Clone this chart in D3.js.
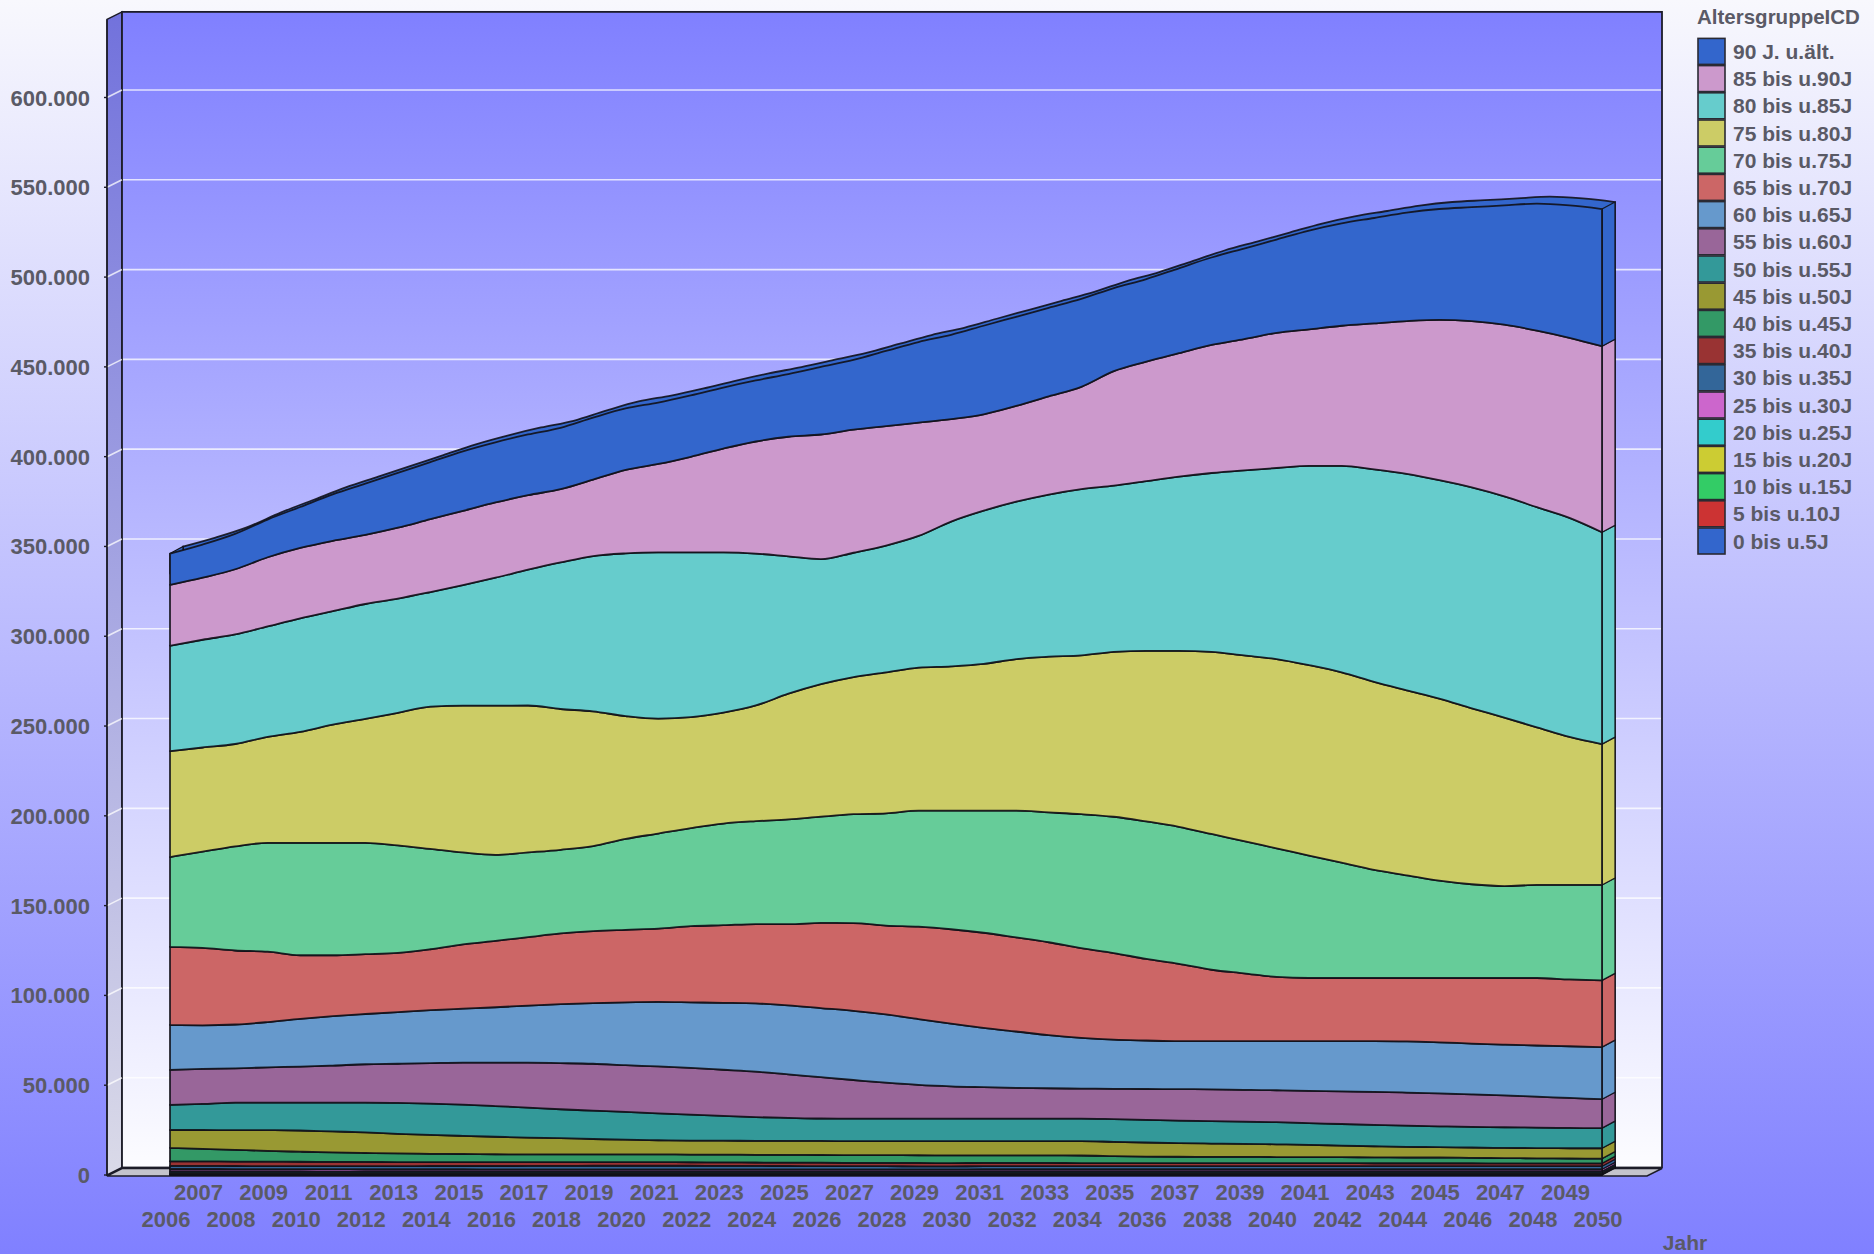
<!DOCTYPE html>
<html>
<head>
<meta charset="utf-8">
<script src="https://cdn.jsdelivr.net/npm/d3@7"></script>
<style>
  html, body { margin: 0; padding: 0; overflow: hidden; background: #fff; }
  svg { display: block; }
  text { font-family: "Liberation Sans", Arial, Helvetica, sans-serif; font-weight: bold; }
</style>
</head>
<body>
<svg id="chart" width="1874" height="1254"></svg>
<script>
// ---- data: population by age group (Altersgruppe), 2006-2050 ----
const years = [2006,2007,2008,2009,2010,2011,2012,2013,2014,2015,
               2016,2017,2018,2019,2020,2021,2022,2023,2024,2025,
               2026,2027,2028,2029,2030,2031,2032,2033,2034,2035,
               2036,2037,2038,2039,2040,2041,2042,2043,2044,2045,
               2046,2047,2048,2049,2050];

// age groups from youngest (bottom of stack) to oldest (top of stack)
const groups = ["0 bis u.5J","5 bis u.10J","10 bis u.15J","15 bis u.20J","20 bis u.25J",
                "25 bis u.30J","30 bis u.35J","35 bis u.40J","40 bis u.45J","45 bis u.50J",
                "50 bis u.55J","55 bis u.60J","60 bis u.65J","65 bis u.70J","70 bis u.75J",
                "75 bis u.80J","80 bis u.85J","85 bis u.90J","90 J. u.ält."];

const groupColors = ["#3366cc","#cc3333","#33cc66","#cccc33","#33cccc",
                     "#cc66cc","#336699","#993333","#339966","#999933",
                     "#339999","#996699","#6699cc","#cc6666","#66cc99",
                     "#cccc66","#66cccc","#cc99cc","#3366cc"];

const v0_5 = [150,150,150,150,150,150,150,150,150,150, 150,150,150,150,150,150,150,150,150,150,
              150,150,150,150,150,150,150,150,150,150, 150,150,150,150,150,150,150,150,150,150,
              150,150,150,150,150];
const v5_10 = [200,200,200,200,200,200,200,200,200,200, 200,200,200,200,200,200,200,200,200,200,
               200,200,200,200,200,200,200,200,200,200, 200,200,200,200,200,200,200,200,200,200,
               200,200,200,200,200];
const v10_15 = [300,300,300,300,300,300,300,300,300,300, 300,300,300,300,300,300,300,300,300,300,
                300,300,300,300,300,300,300,300,300,300, 300,300,300,300,300,300,300,300,300,300,
                300,300,300,300,300];
const v15_20 = [550,550,550,550,550,550,550,550,550,550, 550,550,550,550,550,550,550,550,550,550,
                550,550,550,550,550,550,550,550,550,550, 550,550,550,550,550,550,550,550,550,550,
                550,550,550,550,550];
const v20_25 = [900,900,900,880,880,860,860,850,850,850, 850,850,850,850,850,850,850,850,850,850,
                850,850,850,850,850,850,850,850,850,850, 850,850,850,850,850,850,850,850,850,850,
                850,850,850,850,850];
const v25_30 = [1250,1250,1200,1200,1200,1200,1150,1150,1150,1150, 1100,1100,1100,1100,1100,1100,1100,1100,1100,1100,
                1100,1100,1100,1100,1100,1150,1150,1150,1150,1150, 1150,1150,1150,1150,1150,1150,1150,1150,1150,1150,
                1150,1150,1150,1150,1150];
const v30_35 = [1700,1700,1700,1700,1700,1700,1750,1750,1800,1800, 1850,1900,1950,2000,2000,2000,2000,1950,1900,1850,
                1800,1750,1750,1700,1700,1700,1700,1700,1700,1700, 1700,1700,1700,1700,1700,1700,1700,1700,1700,1700,
                1700,1700,1700,1700,1700];
const v35_40 = [2600,2550,2500,2450,2400,2350,2300,2250,2200,2200, 2150,2100,2100,2050,2000,2000,1950,1950,1900,1900,
                1900,1850,1850,1850,1800,1800,1800,1800,1750,1750, 1750,1750,1700,1700,1700,1700,1700,1650,1650,1650,
                1650,1600,1600,1600,1600];
const v40_45 = [7500,7000,6500,6000,5600,5300,5000,4800,4600,4500, 4400,4300,4300,4300,4300,4300,4300,4300,4300,4300,
                4300,4300,4300,4300,4300,4200,4200,4200,4200,3900, 3600,3500,3500,3500,3400,3400,3300,3300,3200,3200,
                3000,2900,2800,2700,2600];
const v45_50 = [9900,10450,11000,11550,11800,11650,11500,10950,10500,10100, 9750,9400,9000,8550,8200,7900,7750,7750,7800,7800,
                7800,7850,7850,7850,7900,8000,8000,8000,8050,7950, 7850,7650,7400,7200,7100,6800,6500,6150,5950,5750,
                5750,5700,5700,5700,5800];
const v50_55 = [14000,14500,15300,15300,15500,16000,16500,17200,17500,17400, 17100,16700,16100,15800,15500,15000,14500,13800,13200,12800,
                12500,12500,12500,12500,12500,12500,12500,12500,12500,12600, 12600,12500,12500,12400,12300,12100,12000,11900,11800,11600,
                11500,11500,11400,11300,11200];
const v55_60 = [19500,19500,19100,19700,20100,20700,21400,21800,22500,23400, 24200,25000,25700,26100,26000,26100,26000,25700,25300,24200,
                23000,21500,20000,18800,18000,17500,17100,16900,16700,16900, 17200,17500,17700,17700,17800,18000,18200,18400,18400,18300,
                18100,17700,17200,16700,16100];
const v60_65 = [25000,24300,24400,25200,26600,27500,28000,28800,29500,30000, 30800,31800,32800,33800,35000,35900,36500,37300,38000,38500,
                38500,38500,38000,36700,35000,33000,31400,29600,28300,27400, 27000,26700,26800,27100,27300,27600,27900,28200,28500,28500,
                28300,28300,28500,28800,29000];
const v65_70 = [43500,43100,41200,39200,35400,33900,33300,32900,33900,35800, 37000,38100,39400,40100,40400,40800,42400,43200,44200,45200,
                47400,48900,49500,51400,52500,53000,52400,51700,49900,48200, 45400,43100,39800,37800,35800,35200,35200,35200,35300,35800,
                36500,37100,37600,37200,37200];
const v70_75 = [50000,53600,58000,60600,62600,62600,62000,59900,55900,51200, 47900,47200,46600,47300,50600,53000,54600,56600,57300,58300,
                59200,60600,62500,64600,66000,68000,70600,72300,74600,75900, 76600,76300,75600,73600,71600,68200,64200,60200,57200,54200,
                52200,51200,51800,52600,53100];
const v75_80 = [59000,58000,57000,59000,61800,65800,69000,73800,79200,81800, 83100,81800,78400,75000,68400,64000,61800,61800,64400,70000,
                73800,76400,78500,79700,80400,81700,84400,86700,88400,91800, 95000,98000,101400,103400,105400,106000,106000,104700,103000,101400,
                98000,93800,87800,82400,78400];
const v80_85 = [58700,60000,61000,61500,63200,63200,64000,63600,63800,67100, 71200,75600,81600,86500,90600,92600,91800,89200,84600,76500,
                69600,69200,70600,73300,80600,85300,87600,90300,92600,92600, 94500,97000,99600,103100,106400,111000,115000,118300,120500,121600,
                123000,123200,122600,122000,118000];
const v85_90 = [33900,34600,36300,38500,39200,39200,38500,39500,40600,41300, 41900,41500,40800,42600,46500,49200,53200,57800,62400,66600,
                69400,68500,66500,63100,57100,53700,53400,54700,57000,63700, 66500,68700,71300,73100,75200,76000,78000,81300,85100,89300,
                92600,95600,98300,100300,103600];
const v90plus = [17400,18400,19700,21000,22800,25800,28500,30500,31800,33200, 33500,33800,34200,34500,34200,34200,34200,34000,34000,34900,
                 37600,38900,41900,44900,46900,49300,49600,49300,49000,46300, 46000,47300,48700,50400,52000,55000,57000,58700,60400,61700,
                 63400,66400,70700,73700,76400];

const seriesValues = [v0_5, v5_10, v10_15, v15_20, v20_25, v25_30, v30_35, v35_40, v40_45, v45_50,
                      v50_55, v55_60, v60_65, v65_70, v70_75, v75_80, v80_85, v85_90, v90plus];

const yTicks = [0,50000,100000,150000,200000,250000,300000,350000,400000,450000,500000,550000,600000];

// ---- table for d3.stack ----
const rows = years.map((yr, i) => {
  const r = { year: yr };
  groups.forEach((g, k) => { r[g] = seriesValues[k][i]; });
  return r;
});
const layers = d3.stack().keys(groups)(rows);

// ---- geometry ----
const W = 1874, H = 1254;
const svg = d3.select("#chart");
const defs = svg.append("defs");

const y = d3.scaleLinear().domain([0, 600000]).range([1175, 97.5]);
const x = d3.scaleLinear().domain([2006, 2050]).range([170, 1602]);
const axisTop = 643500;          // value reached by the top of the walls
const DX = 15, DY = 7.5;         // depth of the chart box
const SX = 13, SY = 7;           // depth of the area bodies
const axisX = 107, wallL = axisX + DX, wallR = 1662;

const fmt = d3.formatLocale({ decimal: ",", thousands: ".", grouping: [3], currency: ["", "€"] }).format(",d");
const textColor = "#5a5a66";

function vGrad(id, stops) {
  const g = defs.append("linearGradient").attr("id", id)
    .attr("x1", 0).attr("y1", 0).attr("x2", 0).attr("y2", 1);
  stops.forEach(([o, c]) => g.append("stop").attr("offset", o).attr("stop-color", c));
}
vGrad("pageBg", [[0, "#f8f8fd"], [1, "#8080ff"]]);
vGrad("wallBg", [[0, "#8080ff"], [1, "#fcfcff"]]);
vGrad("sideBg", [[0, "#7272dc"], [1, "#dadae8"]]);

// page background
svg.append("rect").attr("width", W).attr("height", H).attr("fill", "url(#pageBg)");

// ---- chart box: side wall, back wall, floor ----
const box = svg.append("g");
const wallTop = y(axisTop);
box.append("polygon")
  .attr("points", [[axisX, wallTop], [wallL, wallTop - DY], [wallL, y(0) - DY], [axisX, y(0)]].join(" "))
  .attr("fill", "url(#sideBg)").attr("stroke", "#1c1c28").attr("stroke-width", 1.5);
box.append("rect")
  .attr("x", wallL).attr("y", wallTop - DY)
  .attr("width", wallR - wallL).attr("height", y(0) - wallTop)
  .attr("fill", "url(#wallBg)").attr("stroke", "#1c1c28").attr("stroke-width", 1.8);

// grid lines on the back wall and the side wall
const grid = box.append("g").attr("stroke", "#ffffff").attr("stroke-opacity", 0.75).attr("stroke-width", 1.6);
yTicks.filter(t => t > 0).forEach(t => {
  grid.append("line").attr("x1", wallL + 1).attr("x2", wallR - 1)
    .attr("y1", y(t) - DY).attr("y2", y(t) - DY);
  grid.append("line").attr("x1", axisX).attr("x2", wallL)
    .attr("y1", y(t)).attr("y2", y(t) - DY);
});

// floor
box.append("polygon")
  .attr("points", [[axisX, y(0) + 1], [wallL, y(0) - DY + 1], [wallR, y(0) - DY + 1], [wallR - DX, y(0) + 1]].join(" "))
  .attr("fill", "#c4c4cc").attr("stroke", "#1c1c28").attr("stroke-width", 1.4);

// value axis line and ticks
box.append("line").attr("x1", axisX).attr("x2", axisX).attr("y1", wallTop).attr("y2", y(0) + 1)
  .attr("stroke", "#1c1c28").attr("stroke-width", 1.5);
box.selectAll(".tick").data(yTicks).join("line")
  .attr("x1", axisX - 3).attr("x2", axisX).attr("y1", d => y(d)).attr("y2", d => y(d))
  .attr("stroke", "#1c1c28").attr("stroke-width", 1.4);
box.selectAll(".ylab").data(yTicks).join("text")
  .attr("x", 90).attr("y", d => y(d) + 8)
  .attr("text-anchor", "end").attr("font-size", 22).attr("fill", textColor)
  .text(d => fmt(d));

// ---- stacked 3D areas ----
const plot = svg.append("g");
const area = d3.area()
  .x(d => x(d.data.year))
  .y0(d => y(d[0]))
  .y1(d => y(d[1]))
  .curve(d3.curveMonotoneX);

const topLayer = layers[layers.length - 1];
const topColor = groupColors[groupColors.length - 1];
const edge = { stroke: "#111118", width: 1.8, opacity: 0.9 };

// back copy of the whole stack gives the visible top face
const totalArea = d3.area()
  .x(d => x(d.data.year))
  .y0(() => y(0))
  .y1(d => y(d[1]))
  .curve(d3.curveMonotoneX);
plot.append("path").datum(topLayer)
  .attr("transform", `translate(${SX},${-SY})`)
  .attr("d", totalArea)
  .attr("fill", topColor).attr("stroke", edge.stroke)
  .attr("stroke-width", edge.width).attr("stroke-opacity", edge.opacity);
// left end of the top face
const first = topLayer[0];
plot.append("polygon")
  .attr("points", [[x(first.data.year), y(first[1])], [x(first.data.year) + SX, y(first[1]) - SY],
                   [x(first.data.year) + SX, y(first[1]) + 20], [x(first.data.year), y(first[1]) + 20]].join(" "))
  .attr("fill", topColor).attr("stroke", edge.stroke).attr("stroke-width", 1.2);

// right side faces
const last = years.length - 1;
layers.forEach((L, k) => {
  const xe = x(L[last].data.year);
  const yt = y(L[last][1]), yb = y(L[last][0]);
  plot.append("polygon")
    .attr("points", [[xe, yt], [xe + SX, yt - SY], [xe + SX, yb - SY], [xe, yb]].join(" "))
    .attr("fill", groupColors[k]).attr("stroke", edge.stroke)
    .attr("stroke-width", 1.3).attr("stroke-opacity", edge.opacity);
});

// front faces
plot.selectAll(".layer").data(layers).join("path")
  .attr("d", area)
  .attr("fill", (d, k) => groupColors[k])
  .attr("stroke", edge.stroke).attr("stroke-width", edge.width)
  .attr("stroke-opacity", edge.opacity).attr("stroke-linejoin", "round");

// ---- category axis labels (two staggered rows) ----
const xl = svg.append("g").attr("font-size", 22).attr("fill", textColor).attr("text-anchor", "middle");
xl.selectAll("text").data(years).join("text")
  .attr("x", d => x(d) - 4)
  .attr("y", d => (d % 2 === 1 ? 1200 : 1227))
  .text(d => d);
svg.append("text").attr("x", 1685).attr("y", 1250).attr("text-anchor", "middle")
  .attr("font-size", 21).attr("fill", textColor).text("Jahr");

// ---- legend ----
const legend = svg.append("g");
legend.append("text").attr("x", 1697).attr("y", 24).attr("font-size", 20.5)
  .attr("fill", textColor).text("AltersgruppeICD");
const legendItems = groups.map((g, k) => ({ name: g, color: groupColors[k] })).reverse();
const li = legend.selectAll(".item").data(legendItems).join("g")
  .attr("transform", (d, i) => `translate(0, ${51.4 + i * 27.2})`);
li.append("rect").attr("x", 1698).attr("y", -13).attr("width", 27).attr("height", 26)
  .attr("fill", d => d.color).attr("stroke", "#2a2a33").attr("stroke-width", 1.6);
li.append("text").attr("x", 1733).attr("y", 7.5).attr("font-size", 21)
  .attr("fill", textColor).text(d => d.name);
</script>
</body>
</html>
